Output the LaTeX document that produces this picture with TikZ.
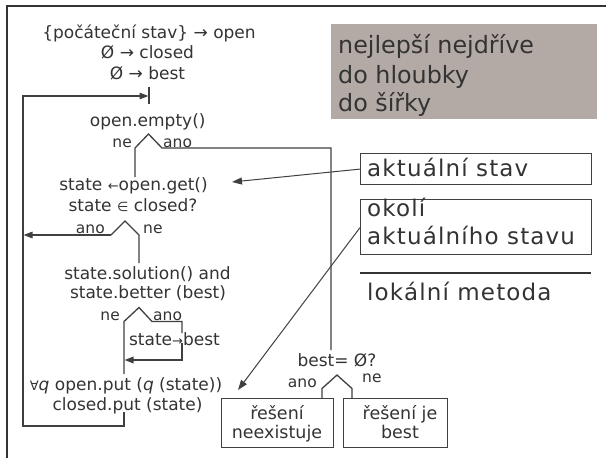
\documentclass[tikz,border=0pt]{standalone}
\usepackage{fontspec}
\setmainfont{DejaVu Sans}
\newfontfamily\sidefont[LetterSpace=5]{DejaVu Sans}
\usetikzlibrary{arrows.meta}
\definecolor{ink}{RGB}{51,51,51}
\definecolor{wire}{RGB}{64,64,64}
\definecolor{panelgray}{RGB}{180,170,165}

\newcommand{\smallsym}[1]{{\fontsize{13}{13}\selectfont #1}}

\tikzset{
  flow/.style={text=ink, inner sep=0pt, anchor=base, font=\fontsize{17}{20.5}\selectfont},
  tag/.style={text=ink, inner sep=0pt, font=\fontsize{15.5}{18}\selectfont},
  sidetext/.style={text=ink, inner sep=0pt, anchor=base west, font=\sidefont\fontsize{23}{27}\selectfont},
  paneltext/.style={text=ink, inner sep=0pt, anchor=base west, font=\fontsize{23.8}{29}\selectfont},
  wireline/.style={draw=wire, line width=1.3pt, line join=miter},
  ptr/.style={wireline, -{Triangle[length=9pt,width=6.5pt]}},
  thinptr/.style={draw=wire, line width=1pt, -{Triangle[length=10pt,width=7pt]}},
  framebox/.style={draw=wire, line width=1.2pt, inner sep=0pt, anchor=north west},
}

\begin{document}
\begin{tikzpicture}[x=1pt,y=-1pt]
\useasboundingbox (0,0) rectangle (606,458);

% slide frame
\draw[draw=ink, line width=2.6pt] (7,458) -- (7,6) -- (606,6);

% ---- flow chart texts ----
\node[flow] (init1) at (149,38) {\{počáteční stav\} → open};
\node[flow] (init2) at (147.5,58.5) {Ø → closed};
\node[flow] (init3) at (147.5,79) {Ø → best};
\node[flow] (empty) at (147.7,126.5) {open.empty()};
\node[tag, anchor=base east] (ne1) at (132,147) {ne};
\node[tag, anchor=base west] (ano1) at (163,147) {ano};
\node[flow] (get) at (133.5,190.5) {state \smallsym{←}open.get()};
\node[flow] (inclosed) at (133,211) {state \smallsym{∈} closed?};
\node[tag, anchor=base east] (ano2) at (105,233.5) {ano};
\node[tag, anchor=base west] (ne2) at (143,233.5) {ne};
\node[flow] (sol1) at (147.5,279) {state.solution() and};
\node[flow] (sol2) at (148,298) {state.better (best)};
\node[tag, anchor=base east] (ne3) at (120,320) {ne};
\node[tag, anchor=base west] (ano3) at (153,320) {ano};
\node[flow] (upd) at (174.5,345) {state\smallsym{→}best};
\node[flow] (put1) at (126,390.5) {\smallsym{∀}\textit{q} open.put (\textit{q} (state))};
\node[flow] (put2) at (127.5,410) {closed.put (state)};
\node[flow] (bestq) at (337,366.5) {best= Ø?};
\node[tag, anchor=base east] (ano4) at (317,387) {ano};
\node[tag, anchor=base west] (ne4) at (362,382.5) {ne};

% result boxes
\node[framebox, minimum width=112pt, minimum height=49pt] (nores) at (221,398) {};
\node[flow, font=\fontsize{17.5}{20}\selectfont] at (277,419) {řešení};
\node[flow, font=\fontsize{17.5}{20}\selectfont] at (277,438.5) {neexistuje};
\node[framebox, minimum width=104pt, minimum height=49pt] (isbest) at (343,398) {};
\node[flow, font=\fontsize{17.5}{20}\selectfont] at (400,419) {řešení je};
\node[flow, font=\fontsize{17.5}{20}\selectfont] at (400,438.5) {best};

% ---- branching points ----
\coordinate (b1p) at (148.5,134);  \coordinate (b1l) at (135,148);  \coordinate (b1r) at (162,148);
\coordinate (b2p) at (125,221);    \coordinate (b2l) at (111,235);  \coordinate (b2r) at (139,235);
\coordinate (b3p) at (139,307.5);  \coordinate (b3l) at (124,321.5);\coordinate (b3r) at (152,321.5);
\coordinate (b4p) at (337,375);    \coordinate (b4l) at (322,388.5);\coordinate (b4r) at (352,388.5);

% loop entry
\coordinate (entry) at (148.5,96);
\draw[wireline] (149,87) -- (149,104);
\coordinate (loopL) at (23,96);
\coordinate (loopB) at (23,426);
\coordinate (loopR) at (124,426);
\draw[ptr] (124,412) -- (loopR) -- (loopB) -- (loopL) -- (entry);

% open.empty() branch
\draw[wireline] (135,177) -- (b1l) -- (b1p) -- (b1r) -- (331,148) -- (331,350);

% state in closed? branch
\coordinate (back) at (23.5,235);
\draw[ptr] (b2l) -- (back);
\draw[wireline] (b2l) -- (b2p) -- (b2r) -- (139,263);

% solution branch
\draw[wireline] (124,374) -- (b3l) -- (b3p) -- (b3r) -- (182,321.5) -- (182,333);
\coordinate (updin) at (124.5,360);
\draw[ptr] (182,343) -- (182,360) -- (updin);

% best = empty branch
\draw[wireline] (nores.north -| b4l) -- (b4l) -- (b4p) -- (b4r) -- (isbest.north -| b4r);

% ---- side panels ----
\node[fill=panelgray, inner sep=0pt, anchor=north west, minimum width=266pt, minimum height=95pt] (method) at (331,24) {};
\node[paneltext] at (338,53.3) {nejlepší nejdříve};
\node[paneltext] at (338,83.3) {do hloubky};
\node[paneltext] at (338,111.7) {do šířky};

\node[framebox, minimum width=231pt, minimum height=31pt] (cur) at (360,153) {};
\node[sidetext] at (367,176.7) {aktuální stav};
\node[framebox, minimum width=231pt, minimum height=55pt] (nbh) at (360,199) {};
\node[sidetext] at (367,216.7) {okolí};
\node[sidetext] at (367,244.3) {aktuálního stavu};

\coordinate (sepL) at (360,273);
\coordinate (sepR) at (591,273);
\draw[draw=ink, line width=2.6pt] (sepL) -- (sepR);
\node[sidetext] (local) at (367,300.7) {lokální metoda};

% pointers from the notes
\coordinate (getmark) at (232,182);
\coordinate (putmark) at (238,390);
\draw[thinptr] (cur.west) -- (getmark);
\draw[thinptr] (nbh.west) ++(0,0.5) -- (putmark);
\end{tikzpicture}
\end{document}
